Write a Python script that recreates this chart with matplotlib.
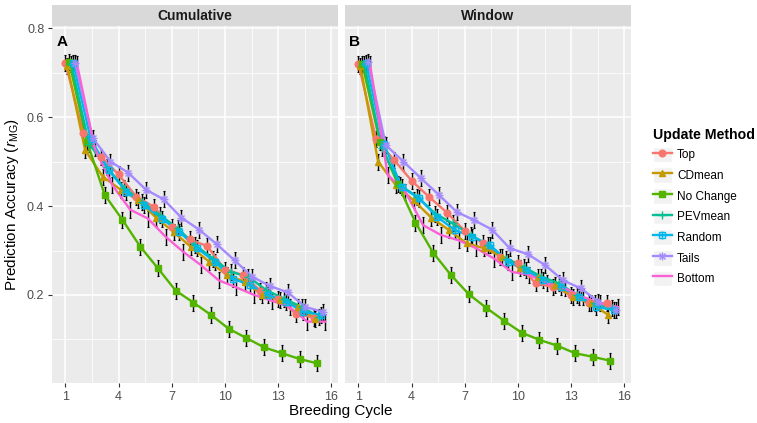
import numpy as np
import matplotlib
matplotlib.use("Agg")
import matplotlib.pyplot as plt
from matplotlib.lines import Line2D
from matplotlib.patches import Rectangle

plt.rcParams['font.family'] = ['Liberation Sans', 'DejaVu Sans']
plt.rcParams['mathtext.fontset'] = 'custom'
plt.rcParams['mathtext.rm'] = 'Liberation Sans'
plt.rcParams['mathtext.it'] = 'Liberation Sans:italic'

cycles = np.arange(1, 16)
methods = ["Top", "CDmean", "No Change", "PEVmean", "Random", "Tails", "Bottom"]
colors = ["#F8766D", "#C49A00", "#53B400", "#00C094", "#00B6EB", "#A58AFF", "#FB61D7"]
panels = ["Cumulative", "Window"]
panel_tags = ["A", "B"]

# mean accuracy per cycle
cumulative = {
    "Top":       [0.722, 0.565, 0.511, 0.471, 0.421, 0.398, 0.353, 0.325, 0.310, 0.257, 0.245, 0.210, 0.192, 0.158, 0.149],
    "CDmean":    [0.715, 0.526, 0.466, 0.437, 0.413, 0.374, 0.342, 0.307, 0.275, 0.245, 0.230, 0.200, 0.188, 0.173, 0.147],
    "No Change": [0.723, 0.545, 0.425, 0.369, 0.309, 0.260, 0.210, 0.183, 0.155, 0.124, 0.103, 0.082, 0.069, 0.056, 0.046],
    "PEVmean":   [0.720, 0.540, 0.488, 0.440, 0.410, 0.380, 0.350, 0.312, 0.282, 0.252, 0.241, 0.211, 0.192, 0.173, 0.151],
    "Random":    [0.722, 0.550, 0.481, 0.432, 0.402, 0.372, 0.342, 0.305, 0.275, 0.237, 0.222, 0.200, 0.185, 0.162, 0.155],
    "Tails":     [0.722, 0.553, 0.500, 0.475, 0.437, 0.415, 0.374, 0.347, 0.314, 0.278, 0.241, 0.220, 0.206, 0.173, 0.162],
    "Bottom":    [0.720, 0.530, 0.447, 0.392, 0.372, 0.331, 0.297, 0.267, 0.233, 0.217, 0.200, 0.187, 0.173, 0.140, 0.140],
}
window = {
    "Top":       [0.720, 0.550, 0.504, 0.457, 0.420, 0.385, 0.344, 0.317, 0.286, 0.271, 0.226, 0.218, 0.200, 0.181, 0.181],
    "CDmean":    [0.715, 0.500, 0.447, 0.413, 0.374, 0.346, 0.316, 0.305, 0.286, 0.260, 0.241, 0.222, 0.196, 0.181, 0.155],
    "No Change": [0.720, 0.543, 0.450, 0.363, 0.295, 0.245, 0.202, 0.171, 0.142, 0.115, 0.099, 0.086, 0.069, 0.061, 0.052],
    "PEVmean":   [0.720, 0.530, 0.447, 0.421, 0.383, 0.361, 0.335, 0.312, 0.282, 0.263, 0.241, 0.226, 0.200, 0.181, 0.170],
    "Random":    [0.722, 0.540, 0.443, 0.417, 0.376, 0.346, 0.331, 0.312, 0.275, 0.256, 0.233, 0.218, 0.196, 0.173, 0.166],
    "Tails":     [0.725, 0.537, 0.500, 0.462, 0.425, 0.387, 0.368, 0.347, 0.305, 0.292, 0.267, 0.233, 0.215, 0.185, 0.166],
    "Bottom":    [0.720, 0.470, 0.432, 0.357, 0.335, 0.323, 0.305, 0.282, 0.252, 0.245, 0.226, 0.215, 0.196, 0.181, 0.173],
}
panel_data = [cumulative, window]
std_err = 0.018

# marker overlays per method (ggplot shapes 16, 17, 15, 3, 12, 8, none)
markers = {
    "Top": [("o", True)],
    "CDmean": [("^", True)],
    "No Change": [("s", True)],
    "PEVmean": [("+", False)],
    "Random": [("s", False), ("+", False)],
    "Tails": [("+", False), ("x", False)],
    "Bottom": [],
}
dodge_step = 0.108

fig = plt.figure(figsize=(7.57, 4.23), dpi=100)
W, H = 757, 423
panel_px = [(52, 338), (345, 631)]
top_px, bot_px = 26, 383
axes = []
for (x0, x1) in panel_px:
    ax = fig.add_axes([x0 / W, 1 - bot_px / H, (x1 - x0) / W, (bot_px - top_px) / H])
    axes.append(ax)

handles = []
for p, ax in enumerate(axes):
    ax.set_facecolor("#EBEBEB")
    for s in ax.spines.values():
        s.set_visible(False)
    ax.set_xlim(0.24, 16.38)
    ax.set_ylim(0.002, 0.805)
    ax.set_xticks([1, 4, 7, 10, 13, 16])
    ax.set_xticks([2.5, 5.5, 8.5, 11.5, 14.5], minor=True)
    ax.set_yticks([0.2, 0.4, 0.6, 0.8])
    ax.set_yticks([0.1, 0.3, 0.5, 0.7], minor=True)
    ax.grid(True, which="major", color="white", lw=1.1)
    ax.grid(True, which="minor", color="white", lw=0.55)
    ax.set_axisbelow(True)
    ax.tick_params(which="major", length=3, color="#333333", labelsize=9, labelcolor="#4D4D4D", pad=2.5)
    ax.tick_params(which="minor", length=0)
    if p == 1:
        ax.tick_params(axis="y", labelleft=False, length=0)
    else:
        ax.set_yticklabels(["0.2", "0.4", "0.6", "0.8"])

    data = panel_data[p]
    for i, m in enumerate(methods):
        x = cycles + i * dodge_step
        y = np.array(data[m])
        ax.errorbar(x, y, yerr=std_err, fmt="none", ecolor="black", elinewidth=1.0,
                    capsize=1.0, capthick=0.8, zorder=2)
        ax.plot(x, y, color=colors[i], lw=1.7, zorder=3)
        hs = []
        for mk, filled in markers[m]:
            ms = 4.8 if mk != "+" else 6
            ax.plot(x, y, ls="none", marker=mk, ms=ms,
                    mfc=colors[i] if filled else "none", mec=colors[i], mew=1.0, zorder=4)
            hs.append(Line2D([], [], ls="none", marker=mk, ms=ms,
                             mfc=colors[i] if filled else "none", mec=colors[i], mew=1.0))
        if p == 0:
            key = Rectangle((0, 0), 1, 1, facecolor="#F2F2F2", edgecolor="white", lw=1)
            ln = Line2D([], [], color=colors[i], lw=1.7)
            handles.append(tuple([key, ln] + hs))

    ax.text(0.8, 0.768, panel_tags[p], fontsize=11, fontweight="bold", ha="center", va="center")

    # facet strip
    x0, x1 = panel_px[p]
    fig.patches.append(Rectangle((x0 / W, 1 - top_px / H), (x1 - x0) / W, 21 / H,
                                 transform=fig.transFigure, facecolor="#D9D9D9",
                                 edgecolor="none"))
    fig.text((x0 + x1) / 2 / W, 1 - 15.5 / H, panels[p], fontsize=10, fontweight="bold",
             color="#1A1A1A", ha="center", va="center")

fig.text(341 / W, 1 - 411 / H, "Breeding Cycle", fontsize=11, ha="center", va="center")
fig.text(12 / W, 1 - 205 / H, r"Prediction Accuracy ($r_{\mathrm{MG}}$)", fontsize=11,
         rotation=90, ha="center", va="center")

leg = fig.legend(handles, methods, loc="upper left", bbox_to_anchor=(648 / W, 1 - 123 / H),
                 frameon=False, title="Update Method", fontsize=8.5, handlelength=1.65,
                 handleheight=1.65, labelspacing=0.43, handletextpad=0.4, borderaxespad=0.0,
                 title_fontproperties={"weight": "bold", "size": 10.2}, alignment="left")

fig.savefig("out.png", dpi=100)
